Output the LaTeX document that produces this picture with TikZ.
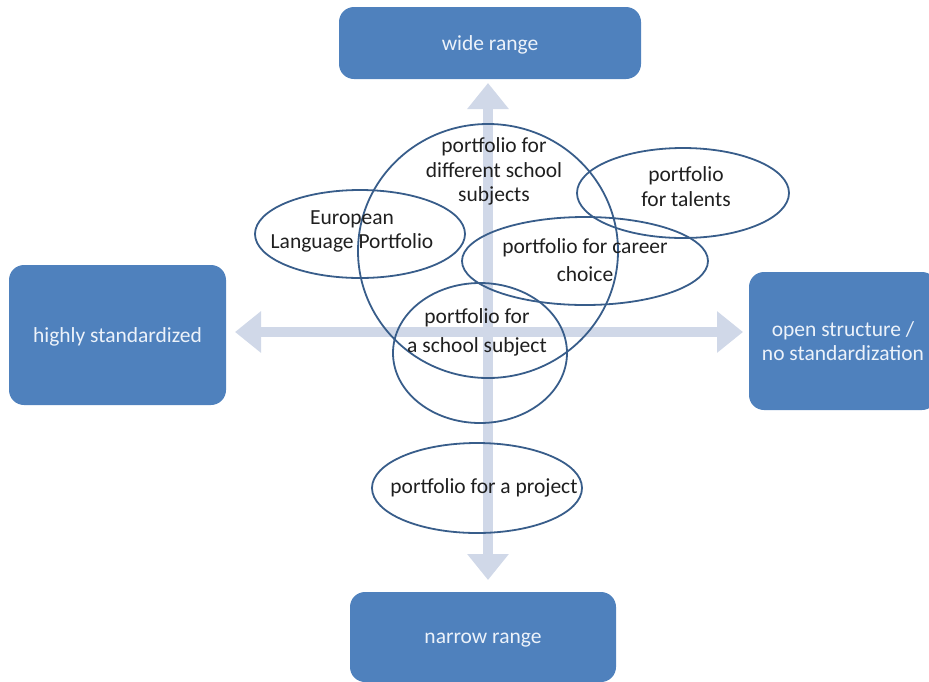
\documentclass[tikz,border=0pt]{standalone}
\usepackage{fontspec}
\setmainfont{Carlito}
\usetikzlibrary{arrows.meta}
\definecolor{boxblue}{RGB}{79,129,189}
\definecolor{axisgray}{RGB}{208,216,232}
\definecolor{ringblue}{RGB}{56,93,138}
\definecolor{boxtext}{RGB}{236,242,250}

\begin{document}
\begin{tikzpicture}[x=1pt,y=-1pt,
  pole/.style={fill=boxblue,rounded corners=15pt,text=boxtext,align=center,inner sep=0pt,
    font=\fontsize{21.5}{24.5}\selectfont},
  axis/.style={draw=axisgray,line width=10pt,
    {Triangle[width=40pt,length=26pt]}-{Triangle[width=40pt,length=26pt]}},
  ring/.style={draw=ringblue,line width=1.8pt},
  lbl/.style={align=center,text=black!88,inner sep=0pt,font=\fontsize{21.5}{24.5}\selectfont}]
\useasboundingbox (0,0) rectangle (929,681);
\clip (0,0) rectangle (929,681);

% the four poles
\node[pole,minimum width=302pt,minimum height=72pt] (wide) at (490,43) {\raisebox{-1.5pt}[\height][\depth]{wide range}};
\node[pole,minimum width=217pt,minimum height=140pt] (strict) at (117.5,335) {\raisebox{-2pt}[\height][\depth]{highly standardized}};
\node[pole,minimum width=188pt,minimum height=138pt] (open) at (843,341) {open structure /\\no standardization};
\node[pole,minimum width=266pt,minimum height=90pt] (narrow) at (483,637) {\raisebox{-3pt}[\height][\depth]{narrow range}};

% axes
\coordinate (up) at (488,83);
\coordinate (down) at (488,580);
\coordinate (west) at (235,332);
\coordinate (east) at (743,332);
\draw[axis] (up) -- (down);
\draw[axis] (west) -- (east);

% portfolio types
\draw[ring] (488,251) ellipse [x radius=130, y radius=127];
\draw[ring] (360,234) ellipse [x radius=105, y radius=44];
\draw[ring] (683,193) ellipse [x radius=106, y radius=45];
\draw[ring] (585,261) ellipse [x radius=123, y radius=44];
\draw[ring] (480,353) ellipse [x radius=87, y radius=70];
\draw[ring] (477,488) ellipse [x radius=105, y radius=45];

\node[lbl] (multi) at (494,171.5) {portfolio for\\different school\\subjects};
\node[lbl] (euro) at (352,231.5) {European\\Language Portfolio};
\node[lbl] (talent) at (686,186.5) {portfolio\\for talents};
\node[lbl,font=\fontsize{21.5}{28}\selectfont] (career) at (585,260.5) {portfolio for career\\choice};
\node[lbl,font=\fontsize{21.5}{29}\selectfont] (single) at (477,332) {portfolio for\\a school subject};
\node[lbl] (project) at (484,487.5) {portfolio for a project};
\end{tikzpicture}
\end{document}
